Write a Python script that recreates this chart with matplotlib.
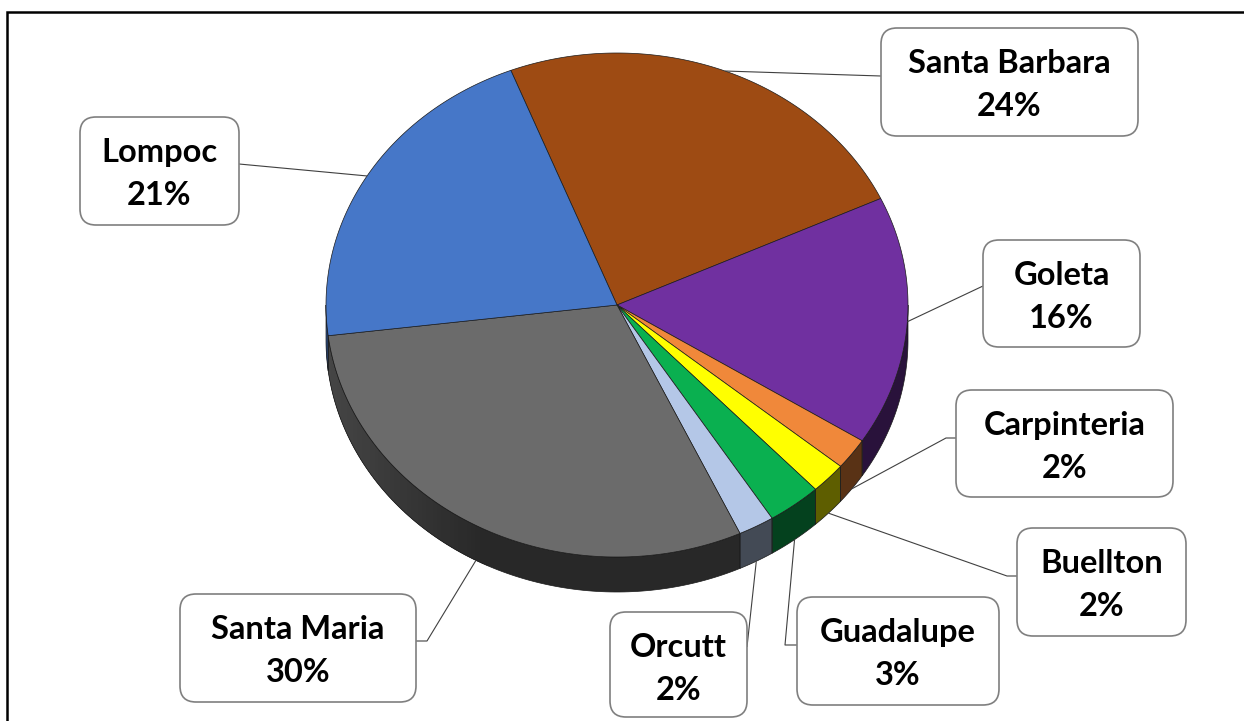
import numpy as np
import matplotlib
matplotlib.use("Agg")
import matplotlib.pyplot as plt
from matplotlib.patches import Polygon, FancyBboxPatch
from matplotlib.colors import to_rgb

# ---------------- data ----------------
names = ['Santa Barbara', 'Goleta', 'Carpinteria', 'Buellton',
         'Guadalupe', 'Orcutt', 'Santa Maria', 'Lompoc']
values = [24, 16, 2, 2, 3, 2, 30, 21]
colors = ['#9E4B13', '#7030A0', '#F0883A', '#FFFF00',
          '#0AB050', '#B4C7E7', '#6B6B6B', '#4677C8']

# ---------------- layout ----------------
W, H = 1244, 721
cx, cy = 617, 305          # pie centre (pixels)
ra, rb = 291, 252          # ellipse radii
depth = 35                 # thickness of the 3-D side
start_angle = 111.4        # degrees, slices go clockwise

# label boxes: (x0, y0, w, h), attach side, attach y offset, elbow length
boxes = {
    'Santa Barbara': ((881, 28, 257, 108), 'left', 48, 0),
    'Goleta':        ((983, 240, 157, 107), 'left', 46, 0),
    'Carpinteria':   ((956, 390, 217, 107), 'left', 48, 10),
    'Buellton':      ((1017, 528, 169, 108), 'left', 48, 10),
    'Guadalupe':     ((797, 597, 202, 108), 'left', 48, 12),
    'Orcutt':        ((610, 612, 137, 105), 'right', 35, 0),
    'Santa Maria':   ((180, 594, 236, 108), 'right', 47, 11),
    'Lompoc':        ((80, 117, 159, 108), 'right', 47, 0),
}

fig = plt.figure(figsize=(W / 100, H / 100), dpi=100)
ax = fig.add_axes([0, 0, 1, 1])
ax.set_xlim(0, W)
ax.set_ylim(H, 0)
ax.axis('off')


def pt(theta_deg, dz=0.0):
    t = np.radians(theta_deg)
    return cx + ra * np.cos(t), cy - rb * np.sin(t) + dz


def shade(theta_deg):
    c = -np.cos(np.radians(theta_deg))
    return 0.37 + 0.28 * np.clip((c - 0.45) / 0.55, 0, 1)


def side_poly(t0, t1, n=6):
    ts = np.linspace(t0, t1, n)
    top = [pt(t) for t in ts]
    bot = [pt(t, depth) for t in ts[::-1]]
    return top + bot


total = float(sum(values))
spans = [v / total * 360.0 for v in values]
ends = [start_angle - s for s in np.cumsum(spans)]
starts = [start_angle] + ends[:-1]

# ---------------- sides (front half only) ----------------
for name, col, a_hi, a_lo in zip(names, colors, starts, ends):
    lo = max(a_lo, -180.0)
    hi = min(a_hi, 0.0)
    if hi <= lo:
        continue
    base = np.array(to_rgb(col))
    # base fill with the darkest shade over the whole slice
    ax.add_patch(Polygon(side_poly(lo, hi, 120), closed=True,
                         facecolor=np.clip(base * shade(hi), 0, 1),
                         edgecolor='none', zorder=1))
    # overlapping strips for the lighting gradient
    step = 1.0
    t = lo
    while t < hi:
        t1 = min(t + step, hi)
        f = shade(0.5 * (t + t1))
        if f > 0.375:
            ax.add_patch(Polygon(side_poly(t, min(t1 + 0.8, hi)),
                                 closed=True,
                                 facecolor=np.clip(base * f, 0, 1),
                                 edgecolor='none', zorder=1.1))
        t = t1
    ax.add_patch(Polygon(side_poly(lo, hi, 120), closed=True,
                         facecolor='none', edgecolor='#1a1a1a',
                         linewidth=0.5, zorder=2))

# ---------------- top surface ----------------
for name, col, a_hi, a_lo in zip(names, colors, starts, ends):
    ts = np.linspace(a_hi, a_lo, 200)
    poly = [(cx, cy)] + [pt(t) for t in ts]
    ax.add_patch(Polygon(poly, closed=True, facecolor=col,
                         edgecolor='#1a1a1a', linewidth=0.5, zorder=3))

# ---------------- labels & leader lines ----------------
for name, val, a_hi, a_lo in zip(names, values, starts, ends):
    (x0, y0, w, h), side, ay, elbow = boxes[name]
    mid = 0.5 * (a_hi + a_lo)
    dz = depth if np.sin(np.radians(mid)) < -0.5 else 0.0
    px, py = pt(mid, dz)
    bx = x0 if side == 'left' else x0 + w
    by = y0 + ay
    ex = bx - elbow if side == 'left' else bx + elbow
    ax.plot([px, ex, bx], [py, by, by], color='#404040', linewidth=0.8,
            zorder=4, solid_capstyle='butt')
    ax.add_patch(FancyBboxPatch((x0, y0), w, h,
                                boxstyle='round,pad=0,rounding_size=16',
                                facecolor='white', edgecolor='#7f7f7f',
                                linewidth=1.2, zorder=5))
    xc = x0 + w / 2
    ax.text(xc, y0 + 45, name, ha='center', va='baseline',
            fontsize=23.5, fontweight='bold', family='Lato', color='black',
            zorder=6)
    ax.text(xc, y0 + 88, f'{val}%', ha='center', va='baseline',
            fontsize=23.5, fontweight='bold', family='Lato', color='black',
            zorder=6)

# ---------------- outer frame ----------------
ax.plot([7, 7, W + 5], [H + 5, 12, 12], color='black', linewidth=1.8,
        solid_joinstyle='miter', zorder=7)

fig.savefig('out.png', dpi=100)
